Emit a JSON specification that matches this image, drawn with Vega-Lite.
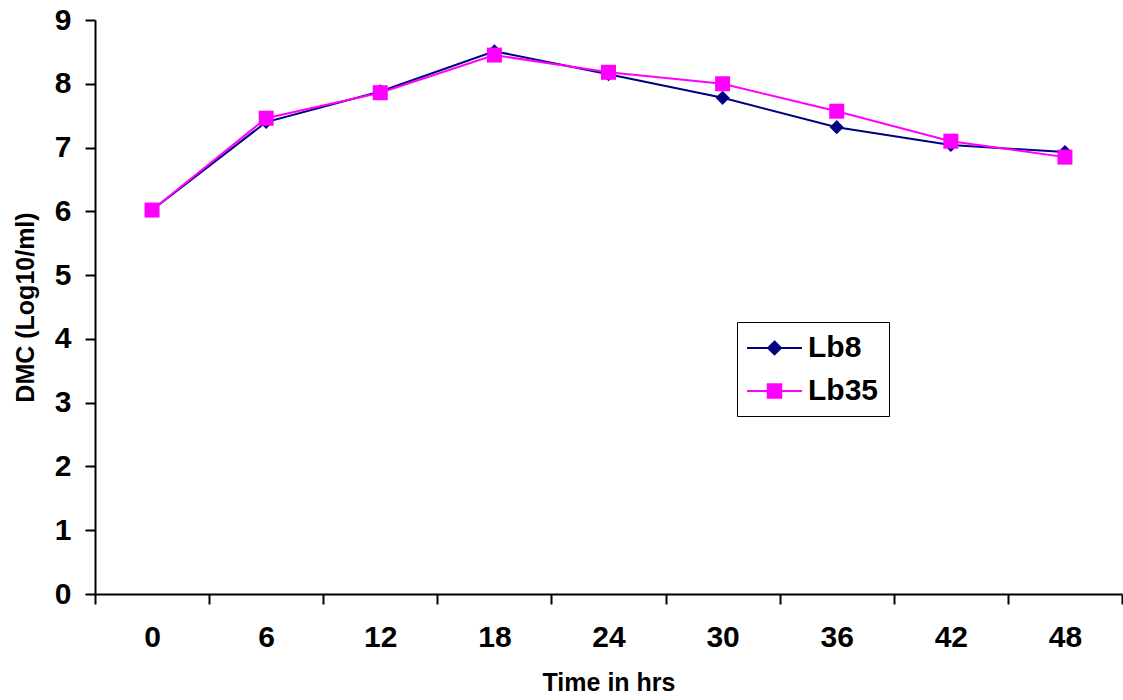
{
  "$schema": "https://vega.github.io/schema/vega-lite/v6.json",
  "autosize": "none",
  "padding": {"left": 95, "top": 20, "right": 1, "bottom": 106},
  "width": 1027,
  "height": 574,
  "background": "white",
  "config": {
    "view": {"stroke": null},
    "font": "Liberation Sans",
    "axis": {
      "grid": false,
      "domainColor": "black",
      "domainWidth": 2,
      "tickColor": "black",
      "tickWidth": 2,
      "tickSize": 10,
      "labelFont": "Liberation Sans",
      "labelFontWeight": "bold",
      "labelFontSize": 30,
      "labelColor": "black",
      "titleFont": "Liberation Sans",
      "titleFontWeight": "bold",
      "titleFontSize": 25,
      "titleColor": "black"
    }
  },
  "data": {
    "values": [
      {"time": "0", "series": "Lb8", "dmc": 6.02},
      {"time": "6", "series": "Lb8", "dmc": 7.40},
      {"time": "12", "series": "Lb8", "dmc": 7.88},
      {"time": "18", "series": "Lb8", "dmc": 8.51},
      {"time": "24", "series": "Lb8", "dmc": 8.15},
      {"time": "30", "series": "Lb8", "dmc": 7.78},
      {"time": "36", "series": "Lb8", "dmc": 7.32},
      {"time": "42", "series": "Lb8", "dmc": 7.04},
      {"time": "48", "series": "Lb8", "dmc": 6.93},
      {"time": "0", "series": "Lb35", "dmc": 6.02},
      {"time": "6", "series": "Lb35", "dmc": 7.46},
      {"time": "12", "series": "Lb35", "dmc": 7.86},
      {"time": "18", "series": "Lb35", "dmc": 8.45},
      {"time": "24", "series": "Lb35", "dmc": 8.18},
      {"time": "30", "series": "Lb35", "dmc": 8.00},
      {"time": "36", "series": "Lb35", "dmc": 7.57},
      {"time": "42", "series": "Lb35", "dmc": 7.10},
      {"time": "48", "series": "Lb35", "dmc": 6.85}
    ]
  },
  "encoding": {
    "x": {
      "field": "time",
      "type": "ordinal",
      "sort": ["0", "6", "12", "18", "24", "30", "36", "42", "48"],
      "scale": {"type": "band", "paddingInner": 0, "paddingOuter": 0},
      "axis": {
        "title": "Time in hrs",
        "labelAngle": 0,
        "tickBand": "extent",
        "labelPadding": 18,
        "titlePadding": 18
      }
    },
    "y": {
      "field": "dmc",
      "type": "quantitative",
      "scale": {"domain": [0, 9], "nice": false, "zero": true},
      "axis": {
        "title": "DMC (Log10/ml)",
        "values": [0, 1, 2, 3, 4, 5, 6, 7, 8, 9],
        "labelPadding": 14,
        "titlePadding": 16
      }
    },
    "color": {
      "field": "series",
      "type": "nominal",
      "scale": {"domain": ["Lb8", "Lb35"], "range": ["#000080", "#FF00FF"]},
      "legend": {
        "title": null,
        "orient": "none",
        "legendX": 642,
        "legendY": 302,
        "strokeColor": "black",
        "fillColor": "white",
        "padding": 10,
        "rowPadding": 12,
        "symbolSize": 900,
        "symbolOffset": 11.5,
        "symbolStrokeWidth": 2,
        "labelFont": "Liberation Sans",
        "labelFontWeight": "bold",
        "labelFontSize": 30,
        "labelColor": "black",
        "labelOffset": 17.5,
        "encode": {
          "symbols": {
            "update": {
              "shape": {"signal": "datum.value === 'Lb8' ? 'M-1.83,0H1.83M0,-0.43L0.43,0L0,0.43L-0.43,0Z' : 'M-1.83,0H1.83M-0.45,-0.45H0.45V0.45H-0.45Z'"},
              "size": {"value": 900},
              "fill": {"signal": "datum.value === 'Lb8' ? '#000080' : '#FF00FF'"},
              "stroke": {"signal": "datum.value === 'Lb8' ? '#000080' : '#FF00FF'"},
              "fillOpacity": {"value": 1},
              "strokeOpacity": {"value": 1},
              "opacity": {"value": 1},
              "strokeWidth": {"value": 2}
            }
          }
        }
      }
    }
  },
  "layer": [
    {
      "mark": {"type": "line", "strokeWidth": 2}
    },
    {
      "transform": [{"filter": "datum.series === 'Lb8'"}],
      "mark": {"type": "point", "filled": true, "opacity": 1, "shape": "diamond", "size": 200}
    },
    {
      "transform": [{"filter": "datum.series === 'Lb35'"}],
      "mark": {"type": "point", "filled": true, "opacity": 1, "shape": "square", "size": 225}
    }
  ]
}
